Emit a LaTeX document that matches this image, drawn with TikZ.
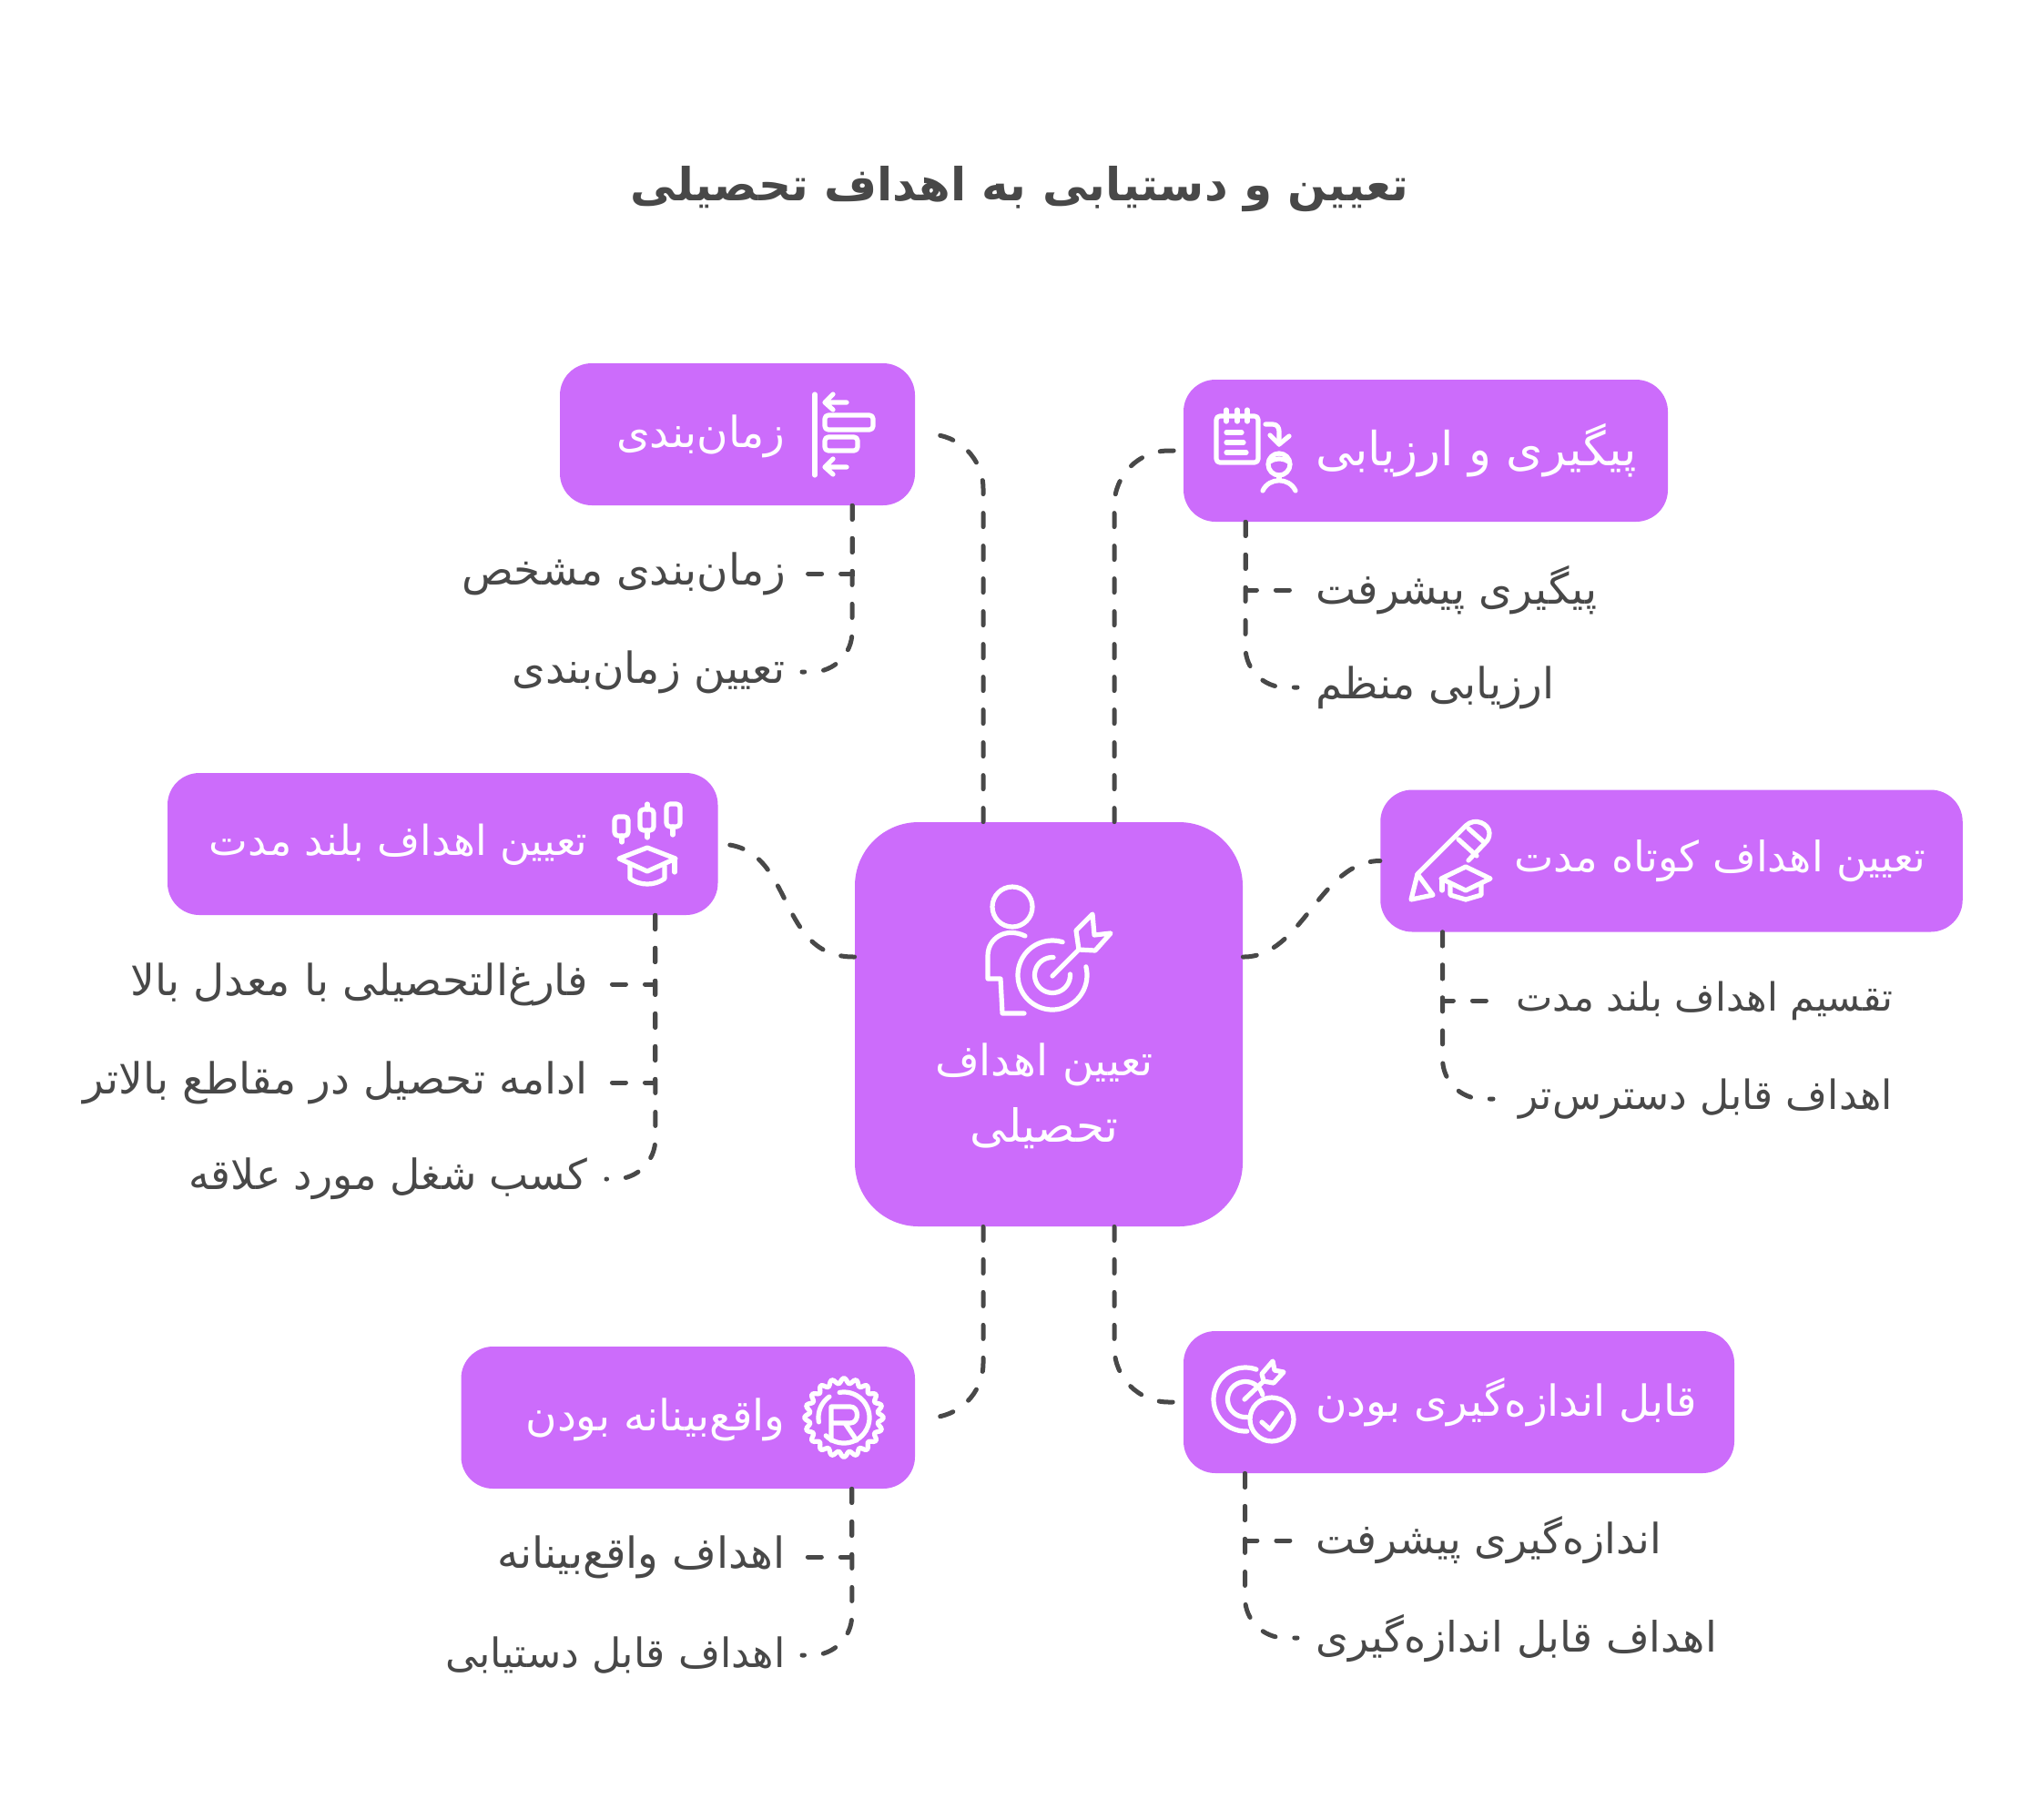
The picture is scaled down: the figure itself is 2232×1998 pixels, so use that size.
\documentclass[tikz,border=0pt]{standalone}
\usepackage{fontspec}
\newfontfamily\arabicfont[Script=Arabic]{DejaVu Sans}
\TeXXeTstate=1
\newcommand{\fa}[1]{\arabicfont\beginR #1\endR}
\newcommand{\iconarc}[5]{plot[smooth,domain=#4:#5,samples=40] ({#1+#3*cos(\x)},{#2-#3*sin(\x)})}
\definecolor{boxpurple}{HTML}{CC6CFB}
\definecolor{inkgray}{HTML}{484848}
\tikzset{%
	block/.style    = {fill=boxpurple, rectangle, rounded corners=17.5pt, inner sep=0pt, minimum height=78pt},
	goalblock/.style = {fill=boxpurple, rectangle, rounded corners=35pt, inner sep=0pt, minimum width=213pt, minimum height=222pt},
	head/.style     = {text=white, inner sep=0pt, font=\fontsize{23.5}{28}\selectfont},
	leaf/.style     = {text=inkgray, inner sep=0pt, font=\fontsize{23.5}{28}\selectfont},
	size/.style     = {font=\fontsize{#1}{28}\selectfont},
	link/.style     = {draw=inkgray, line width=2.5pt, line cap=round, dash pattern=on 7.5pt off 10.5pt},
	icon/.style     = {draw=white, line width=2.6pt, line cap=round, line join=round}
}
\begin{document}
\begin{tikzpicture}[x=0.5pt,y=-0.5pt]
	\useasboundingbox (0,0) rectangle (2232,1998);
	\node[text=inkgray, inner sep=0pt, font=\fontsize{25}{30}\selectfont\bfseries] (title) at (1120,208) {\fa{تعیین و دستیابی به اهداف تحصیلی}};

	\node[goalblock] (goal) at (1152,1125) {};
	\node[block, minimum width=195pt] (timing) at (810,477) {};
	\node[block, minimum width=266pt] (track) at (1566,495) {};
	\node[block, minimum width=302.25pt] (longterm) at (486.25,927) {};
	\node[block, minimum width=319.75pt] (shortterm) at (1836,945.5) {};
	\node[block, minimum width=249.25pt] (real) at (755.75,1557) {};
	\node[block, minimum width=302.5pt] (measure) at (1602.5,1540) {};

	\node[head, align=center, text width=200pt] (goaltext) at (1147,1204) {\fa{تعیین اهداف}\\[8.5pt]\fontsize{25}{28}\selectfont\fa{تحصیلی}};
	\node[head, anchor=east] (timingtext) at (863,479) {\fa{زمان^^^^200cبندی}};
	\node[head, size=25.8, anchor=west] (tracktext) at (1445,495) {\fa{پیگیری و ارزیابی}};
	\node[head, size=22.7, anchor=east] (longtext) at (646,928) {\fa{تعیین اهداف بلند مدت}};
	\node[head, size=23, anchor=west] (shorttext) at (1663,945.5) {\fa{تعیین اهداف کوتاه مدت}};
	\node[head, anchor=east] (realtext) at (863,1559) {\fa{واقع^^^^200cبینانه بودن}};
	\node[head, anchor=west] (measuretext) at (1445,1540) {\fa{قابل اندازه^^^^200cگیری بودن}};

	\node[leaf, anchor=east] (timing1) at (863,630) {\fa{زمان^^^^200cبندی مشخص}};
	\node[leaf, anchor=east] (timing2) at (863,738) {\fa{تعیین زمان^^^^200cبندی}};
	\node[leaf, anchor=west] (track1) at (1445,648) {\fa{پیگیری پیشرفت}};
	\node[leaf, anchor=west] (track2) at (1445,755) {\fa{ارزیابی منظم}};
	\node[leaf, anchor=east] (long1) at (646,1081) {\fa{فارغ^^^^200cالتحصیلی با معدل بالا}};
	\node[leaf, anchor=east] (long2) at (646,1189) {\fa{ادامه تحصیل در مقاطع بالاتر}};
	\node[leaf, size=22.9, anchor=east] (long3) at (646,1295) {\fa{کسب شغل مورد علاقه}};
	\node[leaf, size=21.4, anchor=west] (short1) at (1665,1099) {\fa{تقسیم اهداف بلند مدت}};
	\node[leaf, size=22.1, anchor=west] (short2) at (1668,1207) {\fa{اهداف قابل دسترس^^^^200cتر}};
	\node[leaf, anchor=east] (real1) at (863,1710) {\fa{اهداف واقع^^^^200cبینانه}};
	\node[leaf, size=22.2, anchor=east] (real2) at (863,1818) {\fa{اهداف قابل دستیابی}};
	\node[leaf, size=22.9, anchor=west] (measure1) at (1445,1692) {\fa{اندازه^^^^200cگیری پیشرفت}};
	\node[leaf, size=23, anchor=west] (measure2) at (1445,1799) {\fa{اهداف قابل اندازه^^^^200cگیری}};

	% from the middle block to the six blocks
	\draw[link,rounded corners=30pt] ([xshift=-36pt]goal.north) |- ([xshift=9pt]timing.east);
	\draw[link,rounded corners=30pt] ([xshift=36pt]goal.north) |- (track.west);
	\draw[link,rounded corners=30pt] ([xshift=-36pt]goal.south) |- ([xshift=9pt]real.east);
	\draw[link,rounded corners=30pt] ([xshift=36pt]goal.south) |- (measure.west);
	\draw[link] ([yshift=37pt]goal.west) .. controls (850,1052) and (875,927) .. (longterm.east);
	\draw[link] ([yshift=37pt]goal.east) .. controls (1430,1052) and (1450,945.5) .. (shortterm.west);

	% from each block to its texts
	\draw[link] ([xshift=63pt]timing.south) |- ([xshift=10.5pt]timing1.east);
	\draw[link,rounded corners=22pt] ([xshift=63pt]timing.south) |- ([xshift=9pt]timing2.east);
	\draw[link] ([xshift=-99pt]track.south) |- ([xshift=-10pt]track1.west);
	\draw[link,rounded corners=22pt] ([xshift=-99pt]track.south) |- ([xshift=-10pt]track2.west);
	\draw[link] ([xshift=116.8pt]longterm.south) |- ([xshift=13pt]long1.east);
	\draw[link] ([xshift=116.8pt]longterm.south) |- ([xshift=13pt]long2.east);
	\draw[link,rounded corners=22pt] ([xshift=116.8pt]longterm.south) |- ([xshift=10pt]long3.east);
	\draw[link] ([xshift=-125.75pt]shortterm.south) |- ([xshift=-13pt]short1.west);
	\draw[link,rounded corners=22pt] ([xshift=-125.75pt]shortterm.south) |- ([xshift=-14pt]short2.west);
	\draw[link] ([xshift=90pt]real.south) |- ([xshift=10.5pt]real1.east);
	\draw[link,rounded corners=22pt] ([xshift=90pt]real.south) |- ([xshift=9pt]real2.east);
	\draw[link] ([xshift=-117.5pt]measure.south) |- ([xshift=-10pt]measure1.west);
	\draw[link,rounded corners=22pt] ([xshift=-117.5pt]measure.south) |- ([xshift=-10pt]measure2.west);

	% person and target
	\draw[icon] (1112,996) circle (22);
	\draw[icon] (1126,1028) .. controls (1105,1018) and (1085,1030) .. (1085,1050) -- (1085,1075) -- (1099,1075) -- (1101,1113) -- (1125,1113);
	\draw[icon] \iconarc{1156}{1071}{38}{73}{374};
	\draw[icon] \iconarc{1156}{1071}{19.5}{87}{363};
	\draw[icon] (1156,1072) -- (1185,1043);
	\draw[icon] (1185,1043) -- (1182,1022) -- (1200,1004) -- (1202,1027) -- (1220,1025) -- (1203,1044) -- cycle;

	% timing icon
	\draw[icon] (895,433) -- (895,522);
	\draw[icon] (930,442) -- (906,442) (915,433) -- (906,442) -- (915,450);
	\draw[icon] (930,513) -- (906,513) (915,504) -- (906,513) -- (915,521);
	\draw[icon,rounded corners=2pt] (906,456) rectangle (959,472);
	\draw[icon,rounded corners=2pt] (906,480) rectangle (942,495);

	% notebook and person
	\draw[icon,rounded corners=2pt] (1336,457) rectangle (1382,508);
	\draw[icon] (1347,450) -- (1347,463) (1359,450) -- (1359,463) (1370,450) -- (1370,463);
	\draw[icon] (1347,475) -- (1364,475) (1347,486) -- (1366,486) (1347,497) -- (1369,497);
	\draw[icon] (1390,466) -- (1398,466) .. controls (1403,466) and (1405,470) .. (1405,474) -- (1405,488);
	\draw[icon] (1395,478) -- (1405,488) -- (1416,479);
	\draw[icon] (1405,510) circle (12);
	\draw[icon] (1395,507) .. controls (1400,503) and (1410,503) .. (1415,507);
	\draw[icon] (1405,522) -- (1405,527);
	\draw[icon] (1387,539) .. controls (1394,524) and (1416,524) .. (1423,539);

	% candles and cap
	\draw[icon,rounded corners=2pt] (675,897) rectangle (690,918);
	\draw[icon] (683,918) -- (683,925);
	\draw[icon,rounded corners=2pt] (703,889) rectangle (718,912);
	\draw[icon] (711,883) -- (711,889) (711,912) -- (711,920);
	\draw[icon,rounded corners=2pt] (732,883) rectangle (747,908);
	\draw[icon] (739,908) -- (739,917);
	\draw[icon] (680,943) -- (711,931) -- (742,943) -- (711,957) -- cycle;
	\draw[icon] (692,950) -- (692,965) .. controls (703,973) and (719,973) .. (730,965) -- (730,951);
	\draw[icon] (741,943) -- (741,958);

	% pencil and cap
	\draw[icon] (1557,960) -- (1610,907) .. controls (1620,897) and (1636,905) .. (1636,915) .. controls (1636,920) and (1634,923) .. (1632,925) -- (1613,945);
	\draw[icon] (1602,922) -- (1622,940) (1613,910) -- (1630,925);
	\draw[icon] (1557,960) -- (1550,988) -- (1574,983) -- cycle;
	\draw[icon] (1583,965) -- (1610,952) -- (1637,965) -- (1610,978) -- cycle;
	\draw[icon] (1593,970) -- (1593,983) -- (1610,988) -- (1627,983) -- (1627,970);
	\draw[icon] (1584,965) -- (1584,978);

	% seal with the letter
	\draw[icon] plot[smooth cycle,domain=0:357,samples=120] ({927+(40.5+3*cos(20*\x))*cos(\x)},{1557-(40.5+3*cos(20*\x))*sin(\x)});
	\draw[icon] \iconarc{927}{1557}{28}{-30}{100};
	\draw[icon] \iconarc{927}{1557}{28}{125}{190};
	\draw[icon] \iconarc{927}{1557}{28}{225}{330};
	\draw[icon] (913,1545) -- (913,1582) (913,1545) -- (934,1545) .. controls (944,1545) and (944,1563) .. (934,1563) -- (913,1563) (928,1563) -- (941,1582);

	% target and check
	\draw[icon] \iconarc{1368}{1537}{35}{70}{273};
	\draw[icon] \iconarc{1368}{1537}{19.5}{15}{275};
	\draw[icon] (1367,1537) -- (1388,1517);
	\draw[icon] (1388,1517) -- (1386,1509) -- (1398,1495) -- (1400,1505) -- (1410,1507) -- (1399,1519) -- cycle;
	\draw[icon] (1397,1559) circle (24);
	\draw[icon] (1386,1562) -- (1395,1570) -- (1408,1552);
\end{tikzpicture}
\end{document}
